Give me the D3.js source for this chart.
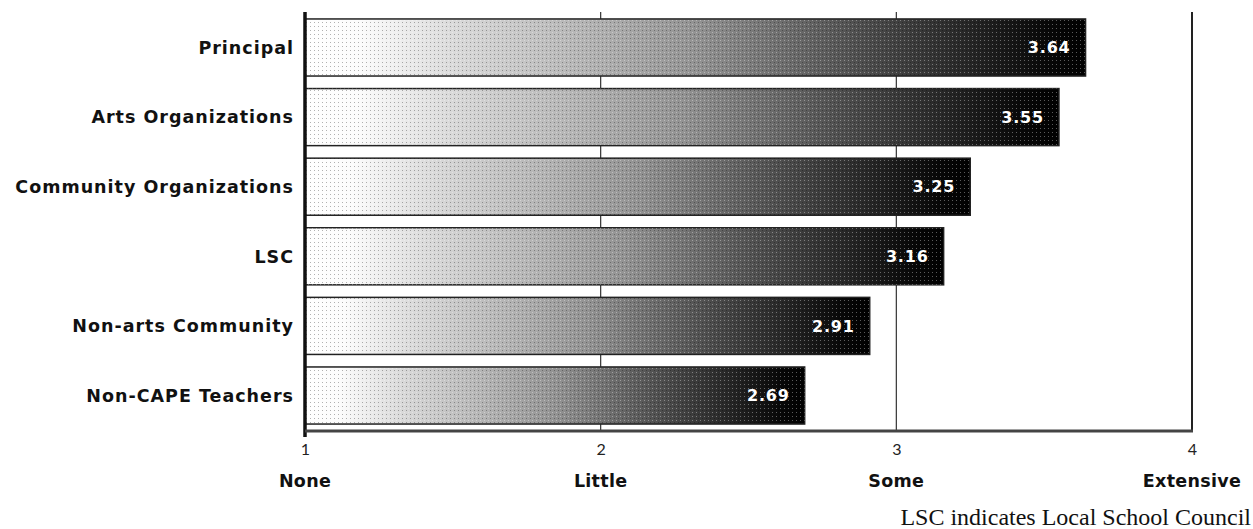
<!DOCTYPE html>
<html><head><meta charset="utf-8">
<script src="https://cdn.jsdelivr.net/npm/d3@7"></script>
<style>
body{margin:0;background:#fff;}
svg{display:block;}
</style></head>
<body>
<svg id="chart" width="1253" height="529"></svg>
<script>
const categories = ["Principal","Arts Organizations","Community Organizations","LSC","Non-arts Community","Non-CAPE Teachers"];
const values = [3.64,3.55,3.25,3.16,2.91,2.69];
const tickValues = [1,2,3,4];
const tickNames = ["None","Little","Some","Extensive"];
const footnote = "LSC indicates Local School Council";

const svg = d3.select("#chart");
const x = d3.scaleLinear().domain([1,4]).range([305,1192]);
const y = d3.scaleBand().domain(categories).range([12,431]).paddingInner(0.18).paddingOuter(0.1);
const boldFont = "'DejaVu Sans', sans-serif";

const defs = svg.append("defs");
const grad = defs.append("linearGradient").attr("id","barGrad").attr("x1","0").attr("x2","1").attr("y1","0").attr("y2","0");
[[0,"#ffffff"],[0.07,"#fcfcfc"],[0.2,"#d8d8d8"],[0.35,"#b6b6b6"],[0.5,"#939393"],[0.6,"#727272"],[0.72,"#4c4c4c"],[0.85,"#262626"],[0.95,"#080808"],[1,"#000000"]]
  .forEach(([o,c])=>grad.append("stop").attr("offset",o).attr("stop-color",c));
const pat = defs.append("pattern").attr("id","dots").attr("width",4).attr("height",4).attr("patternUnits","userSpaceOnUse");
pat.append("rect").attr("x",0).attr("y",0).attr("width",1).attr("height",1).attr("fill","#fff").attr("opacity",0.35);
pat.append("rect").attr("x",2).attr("y",2).attr("width",1).attr("height",1).attr("fill","#000").attr("opacity",0.3);

// gridlines
svg.append("g").selectAll("line").data([2,3]).join("line")
  .attr("x1",d=>x(d)).attr("x2",d=>x(d)).attr("y1",12).attr("y2",431)
  .attr("stroke","#333").attr("stroke-width",1.2);
svg.append("line").attr("x1",x(4)).attr("x2",x(4)).attr("y1",12).attr("y2",431)
  .attr("stroke","#222").attr("stroke-width",2);

// bars
const bars = svg.append("g");
bars.selectAll("rect.bar").data(categories).join("rect").attr("class","bar")
  .attr("x",x(1)).attr("y",d=>y(d)).attr("width",(d,i)=>x(values[i])-x(1)).attr("height",y.bandwidth())
  .attr("fill","url(#barGrad)").attr("stroke","#222").attr("stroke-width",1.5);
bars.selectAll("rect.tex").data(categories).join("rect").attr("class","tex")
  .attr("x",x(1)).attr("y",d=>y(d)).attr("width",(d,i)=>x(values[i])-x(1)).attr("height",y.bandwidth())
  .attr("fill","url(#dots)");

// value labels
svg.append("g").selectAll("text").data(categories).join("text")
  .attr("x",(d,i)=>x(values[i])-15).attr("y",d=>y(d)+y.bandwidth()/2)
  .attr("dy","0.36em").attr("text-anchor","end")
  .attr("font-family",boldFont).attr("font-weight","bold").attr("font-size",16)
  .attr("letter-spacing",0.8).attr("fill","#fff")
  .text((d,i)=>values[i].toFixed(2));

// category labels
svg.append("g").selectAll("text").data(categories).join("text")
  .attr("x",294).attr("y",d=>y(d)+y.bandwidth()/2).attr("dy","0.36em").attr("text-anchor","end")
  .attr("font-family",boldFont).attr("font-weight","bold").attr("font-size",17.5)
  .attr("letter-spacing",1).attr("fill","#111").text(d=>d);

// left axis & bottom axis
svg.append("line").attr("x1",x(1)).attr("x2",x(1)).attr("y1",12).attr("y2",437)
  .attr("stroke","#111").attr("stroke-width",3.5);
svg.append("line").attr("x1",x(1)).attr("x2",x(4)+1).attr("y1",431).attr("y2",431)
  .attr("stroke","#444").attr("stroke-width",3);

const axis = d3.axisBottom(x).tickValues(tickValues).tickSize(0).tickPadding(0).tickFormat(d3.format("d"));
const ag = svg.append("g").attr("transform","translate(0,442)").call(axis);
ag.select(".domain").remove();
ag.selectAll("text").attr("font-family","Lato, sans-serif").attr("font-size",16).attr("fill","#222").attr("dy","0.8em");

svg.append("g").selectAll("text").data(tickValues).join("text")
  .attr("x",d=>x(d)).attr("y",487).attr("text-anchor","middle")
  .attr("font-family",boldFont).attr("font-weight","bold").attr("font-size",17.5)
  .attr("letter-spacing",0.3).attr("fill","#111")
  .text((d,i)=>tickNames[i]);

svg.append("text").attr("x",1251).attr("y",525).attr("text-anchor","end")
  .attr("font-family","'Liberation Serif', serif").attr("font-size",24).attr("fill","#111")
  .text(footnote);
</script>
</body></html>
